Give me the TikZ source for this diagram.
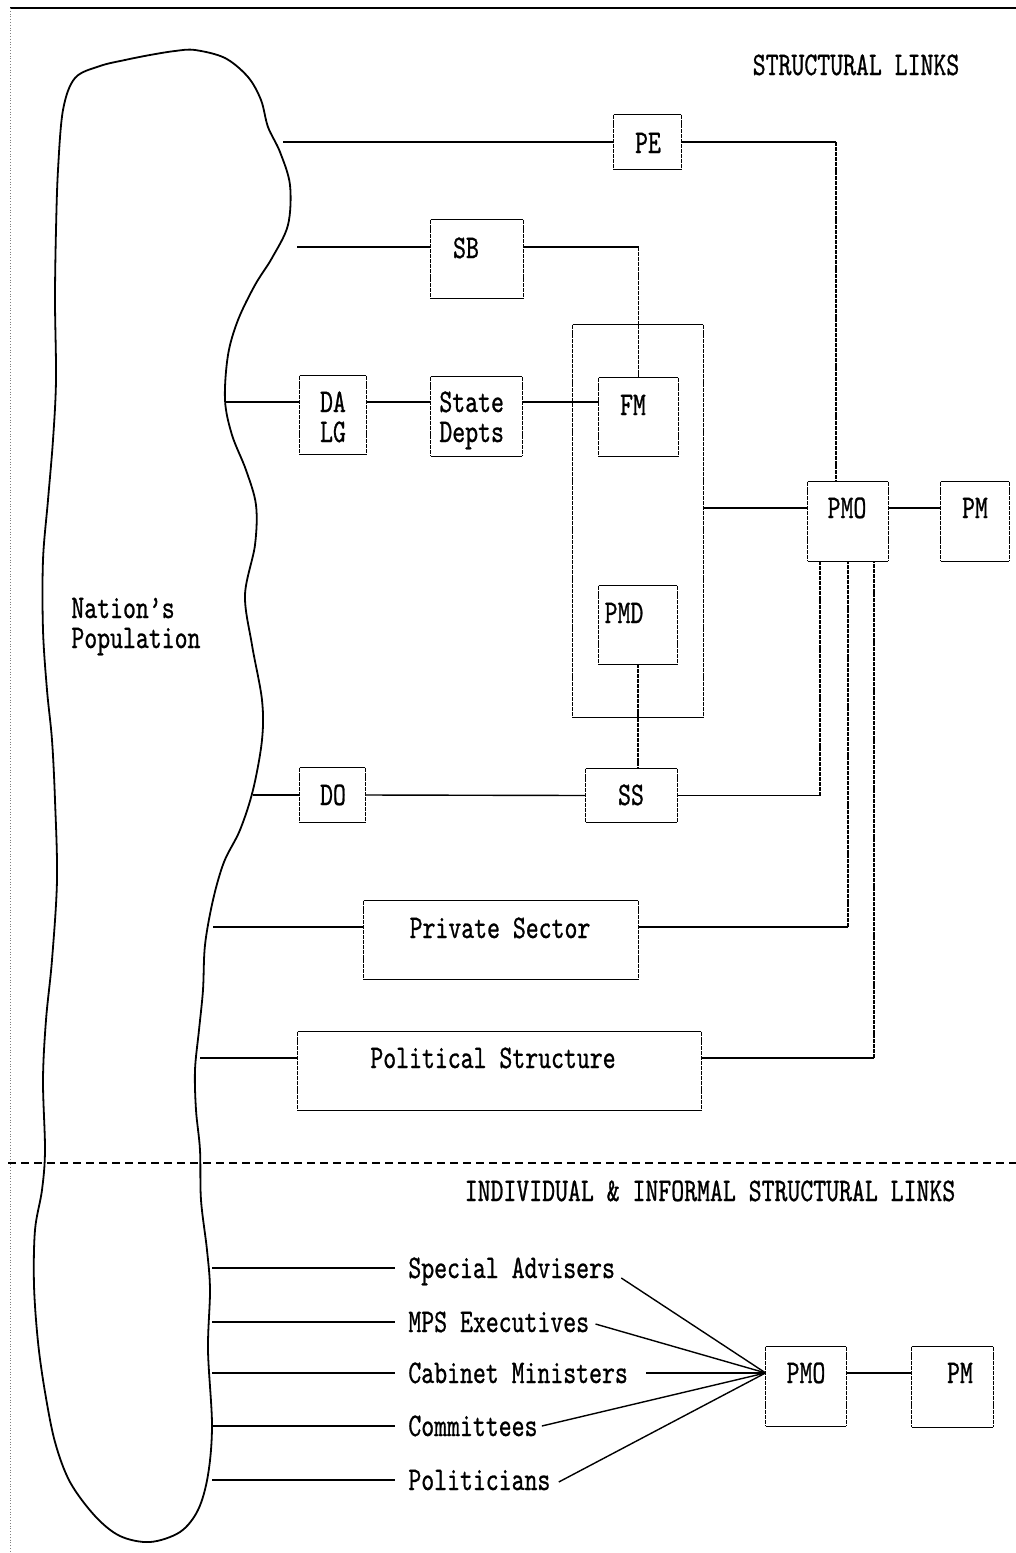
\documentclass[tikz,border=0pt]{standalone}
\usepackage{fontspec}
\newfontfamily\dmfont[FakeStretch=0.745, FakeBold=0.8]{lmmono10-regular.otf}
\usetikzlibrary{fit}
\tikzset{
  bx/.style={rectangle, inner sep=0pt},
  tx/.style={font=\dmfont\fontsize{16.5pt}{15pt}\selectfont, inner sep=0pt},
  hl/.style={line width=0.7pt},
  vl/.style={line width=0.6pt, dash pattern=on 2pt off 0.45pt},
  blob/.style={line width=0.9pt},
}
\newcommand\rbox[1]{%
  \draw[hl] (#1.north west) -- (#1.north east) (#1.south west) -- (#1.south east);
  \draw[vl] (#1.north west) -- (#1.south west) (#1.north east) -- (#1.south east);}
\begin{document}
\begin{tikzpicture}[x=0.5pt, y=-0.5pt]
\fill[white] (0,0) rectangle (1016,1553);
\useasboundingbox (0,0) rectangle (1016,1553);

% frame
\draw[line width=0.8pt] (10,8) -- (1016,8);
\draw[densely dotted, line width=0.4pt, gray] (10,8) -- (10,1553);
\draw[dash pattern=on 4pt off 2.5pt, line width=0.7pt] (8,1163) -- (1016,1163);

% blob
\draw[blob] plot[smooth cycle, tension=0.55] coordinates {
(75,78) (100,66) (125,60) (150,55) (175,51) (195,50) (225,58) (248,77) (261,100) (268,127)
(280,152) (290,185) (288,225) (272,258) (255,285) (238,320) (228,355) (225,400) (232,435)
(246,470) (256,505) (255,545) (245,595) (252,645) (262,700) (262,740) (253,790) (240,830)
(224,862) (213,900) (205,945) (203,990) (199,1030) (195,1070) (196,1110) (200,1150) (201,1200)
(207,1250) (210,1290) (208,1350) (212,1425) (208,1475) (198,1510) (180,1532) (150,1542)
(120,1536) (95,1516) (70,1482) (55,1442) (45,1392) (38,1342) (34,1285) (35,1230) (42,1190)
(45,1150) (43,1080) (46,1020) (52,960) (57,880) (55,800) (52,740) (47,690) (43,630) (43,560)
(48,500) (53,440) (56,380) (55,300) (56,230) (58,170) (63,110)};
\node[tx, anchor=base west] (np1) at (71,618) {Nation’s};
\node[tx, anchor=base west] (np2) at (71,648) {Population};

% blob attachment points
\coordinate (b1) at (283,142);
\coordinate (b2) at (297,247);
\coordinate (b3) at (225,402);
\coordinate (b4) at (253,795);
\coordinate (b5) at (213,927);
\coordinate (b6) at (200,1058);
\coordinate (c1) at (212,1268);
\coordinate (c2) at (212,1322);
\coordinate (c3) at (212,1373);
\coordinate (c4) at (212,1426);
\coordinate (c5) at (212,1480);

% titles
\node[tx, anchor=base] (t1) at (856,75) {STRUCTURAL LINKS};
\node[tx, anchor=base] (t2) at (710,1201) {INDIVIDUAL \& INFORMAL STRUCTURAL LINKS};

% boxes (upper part)
\node[bx, fit={(614,115) (681,169)}] (PE) {};
\node[bx, fit={(431,220) (523,298)}] (SB) {};
\node[bx, fit={(300,376) (366,454)}] (DA) {};
\node[bx, fit={(431,377) (522,456)}] (SD) {};
\node[bx, fit={(573,325) (703,717)}] (PC) {};
\node[bx, fit={(599,378) (678,456)}] (FM) {};
\node[bx, fit={(599,586) (677,664)}] (PMD) {};
\node[bx, fit={(808,482) (888,561)}] (PMO) {};
\node[bx, fit={(941,482) (1009,561)}] (PM) {};
\node[bx, fit={(300,768) (365,822)}] (DO) {};
\node[bx, fit={(586,769) (677,822)}] (SS) {};
\node[bx, fit={(364,901) (638,979)}] (PS) {};
\node[bx, fit={(298,1032) (701,1110)}] (POL) {};
\rbox{PE}\rbox{SB}\rbox{DA}\rbox{SD}\rbox{PC}\rbox{FM}\rbox{PMD}
\rbox{PMO}\rbox{PM}\rbox{DO}\rbox{SS}\rbox{PS}\rbox{POL}

% box texts
\node[tx, anchor=base] (PEt) at (648,153) {PE};
\node[tx, anchor=base] (SBt) at (466,258) {SB};
\node[tx, anchor=base] (DAt1) at (333,412) {DA};
\node[tx, anchor=base] (DAt2) at (333,442) {LG};
\node[tx, anchor=base west] (SDt1) at (439,412) {State};
\node[tx, anchor=base west] (SDt2) at (439,442) {Depts};
\node[tx, anchor=base] (FMt) at (633,415) {FM};
\node[tx, anchor=base] (PMDt) at (624,623) {PMD};
\node[tx, anchor=base] (PMOt) at (847,518) {PMO};
\node[tx, anchor=base] (PMt) at (975,518) {PM};
\node[tx, anchor=base] (DOt) at (333,805) {DO};
\node[tx, anchor=base] (SSt) at (631,805) {SS};
\node[tx, anchor=base] (PSt) at (500,938) {Private Sector};
\node[tx, anchor=base] (POLt) at (493,1068) {Political Structure};

% corner points of the connectors
\coordinate (k1) at ([xshift=-6pt]PMO.north |- b1);
\coordinate (k2) at (FM.north |- b2);
\coordinate (k3) at ([xshift=-14pt]PMO.south |- SS.east);
\coordinate (k4) at (PMO.south |- b5);
\coordinate (k5) at ([xshift=13pt]PMO.south |- b6);

% upper connectors
\draw[hl] (b1) -- (b1 -| PE.west);
\draw[hl] (b1 -| PE.east) -- (k1);
\draw[vl] (k1) -- ([xshift=-6pt]PMO.north);
\draw[hl] (b2) -- (b2 -| SB.west);
\draw[hl] (b2 -| SB.east) -- (k2);
\draw[vl] (k2) -- (FM.north);
\draw[hl] (b3) -- (b3 -| DA.west);
\draw[hl] (b3 -| DA.east) -- (b3 -| SD.west);
\draw[hl] (b3 -| SD.east) -- (b3 -| FM.west);
\draw[hl] (PC.east |- PMOt.center) -- (PMO.west |- PMOt.center);
\draw[hl] (PMO.east |- PMOt.center) -- (PM.west |- PMOt.center);
\draw[vl] (PMD.south) -- (PMD.south |- SS.north);
\draw[hl] (b4) -- (DO.west);
\draw[hl] (DO.east) -- (SS.west);
\draw[hl] (SS.east) -- (k3);
\draw[vl] (k3) -- ([xshift=-14pt]PMO.south);
\draw[hl] (b5) -- (b5 -| PS.west);
\draw[hl] (b5 -| PS.east) -- (k4);
\draw[vl] (k4) -- (PMO.south);
\draw[hl] (b6) -- (b6 -| POL.west);
\draw[hl] (b6 -| POL.east) -- (k5);
\draw[vl] (k5) -- ([xshift=13pt]PMO.south);

% lower part
\node[tx, anchor=base west] (SA) at (408,1278) {Special Advisers};
\node[tx, anchor=base west] (MPS) at (408,1332) {MPS Executives};
\node[tx, anchor=base west] (CM) at (408,1383) {Cabinet Ministers};
\node[tx, anchor=base west] (COM) at (408,1436) {Committees};
\node[tx, anchor=base west] (POLI) at (408,1490) {Politicians};
\node[bx, fit={(766,1347) (846,1426)}] (PMO2) {};
\node[bx, fit={(912,1347) (993,1427)}] (PM2) {};
\rbox{PMO2}\rbox{PM2}
\node[tx, anchor=base] (PMO2t) at (806,1383) {PMO};
\node[tx, anchor=base] (PM2t) at (960,1383) {PM};
\coordinate (cv) at (PMO2.west |- PMO2t.center);

\draw[hl] (c1) -- ([xshift=-6.5pt]c1 -| SA.west);
\draw[hl] (c2) -- ([xshift=-6.5pt]c2 -| MPS.west);
\draw[hl] (c3) -- ([xshift=-6.5pt]c3 -| CM.west);
\draw[hl] (c4) -- ([xshift=-6.5pt]c4 -| COM.west);
\draw[hl] (c5) -- ([xshift=-6.5pt]c5 -| POLI.west);

\draw[hl] ([xshift=3pt]SA.base east) -- (cv);
\draw[hl] ([xshift=3pt,yshift=4pt]MPS.base east) -- (cv);
\draw[hl] ([xshift=9pt]CM.base east |- cv) -- (cv);
\draw[hl] ([xshift=2pt,yshift=5pt]COM.base east) -- (cv);
\draw[hl] ([xshift=4pt,yshift=4pt]POLI.base east) -- (cv);
\draw[hl] (PMO2.east |- PMO2t.center) -- (PM2.west |- PMO2t.center);
\end{tikzpicture}
\end{document}
